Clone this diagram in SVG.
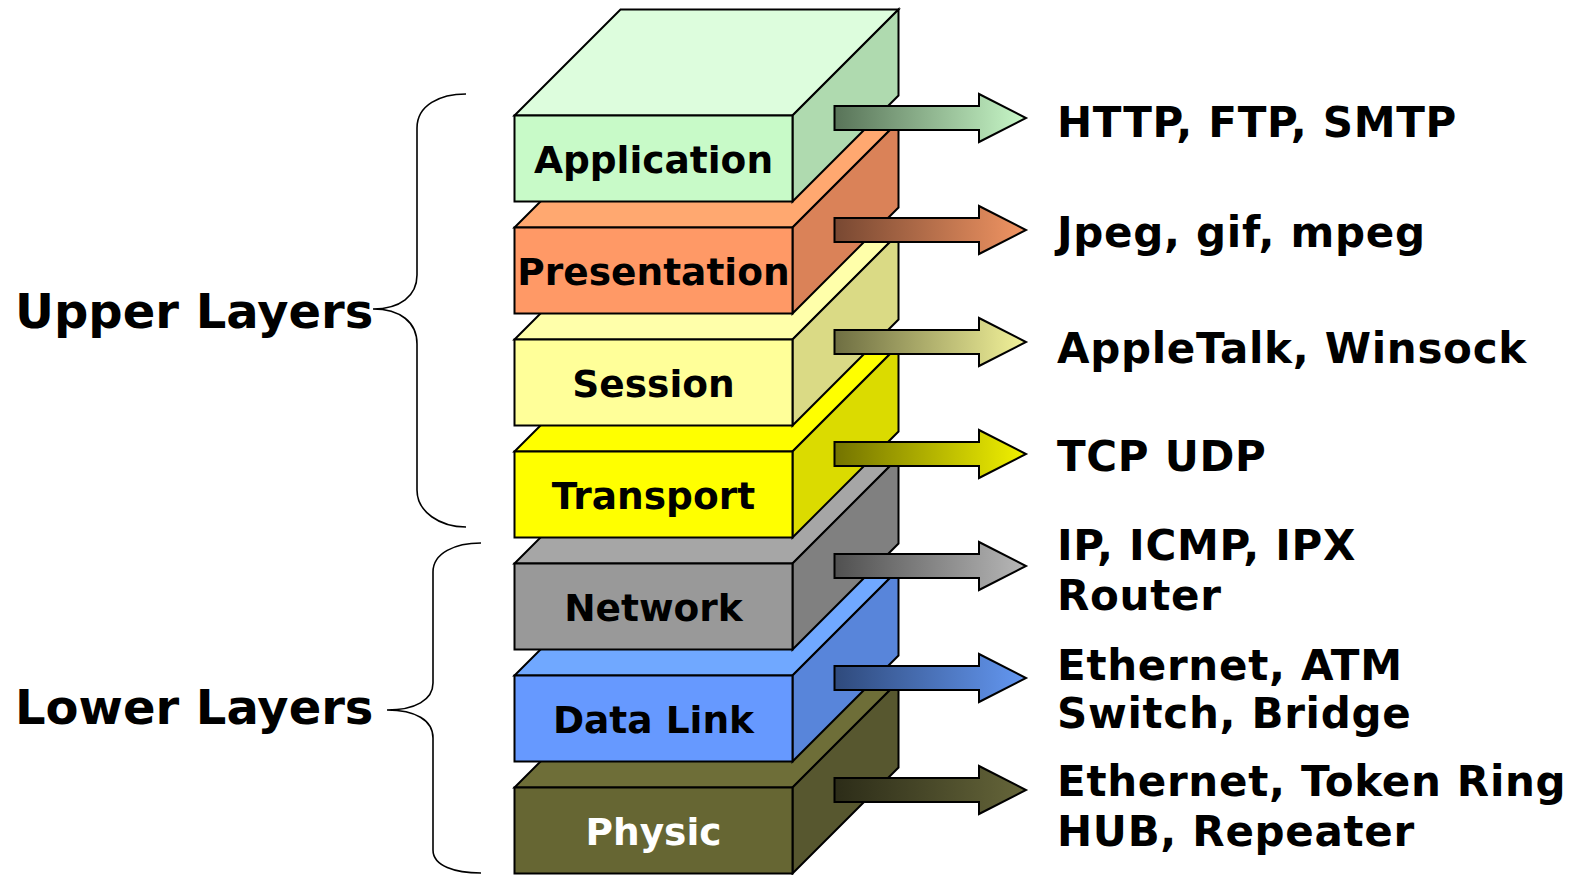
<svg xmlns="http://www.w3.org/2000/svg" width="1573" height="875" viewBox="0 0 1573 875">
<style>
.e{stroke:#000;stroke-width:2;stroke-linejoin:miter}
.lbl{font-family:"DejaVu Sans",sans-serif;font-weight:bold;font-size:37.5px;text-anchor:middle;fill:#000}
.side{font-family:"DejaVu Sans",sans-serif;font-weight:bold;font-size:48px;fill:#000}
.proto{font-family:"DejaVu Sans",sans-serif;font-weight:bold;font-size:42px;letter-spacing:0.7px;fill:#000}
.br{fill:none;stroke:#000;stroke-width:1.6}
</style>
<defs>
<linearGradient id="gA" x1="0" x2="1" y1="0" y2="0"><stop offset="0" stop-color="#587358"/><stop offset="1" stop-color="#c8f8c8"/></linearGradient>
<linearGradient id="gP" x1="0" x2="1" y1="0" y2="0"><stop offset="0" stop-color="#784832"/><stop offset="1" stop-color="#f29563"/></linearGradient>
<linearGradient id="gS" x1="0" x2="1" y1="0" y2="0"><stop offset="0" stop-color="#6e6e42"/><stop offset="1" stop-color="#f3f39a"/></linearGradient>
<linearGradient id="gT" x1="0" x2="1" y1="0" y2="0"><stop offset="0" stop-color="#737300"/><stop offset="1" stop-color="#f2f200"/></linearGradient>
<linearGradient id="gN" x1="0" x2="1" y1="0" y2="0"><stop offset="0" stop-color="#505050"/><stop offset="1" stop-color="#b8b8b8"/></linearGradient>
<linearGradient id="gD" x1="0" x2="1" y1="0" y2="0"><stop offset="0" stop-color="#2f4a7c"/><stop offset="1" stop-color="#6498f2"/></linearGradient>
<linearGradient id="gH" x1="0" x2="1" y1="0" y2="0"><stop offset="0" stop-color="#2c2c18"/><stop offset="1" stop-color="#66663a"/></linearGradient>
</defs>

<g id="layer-physic">
<polygon class="e" fill="#6e6e38" points="514.5,787.5 620.5,681.5 898.5,681.5 792.5,787.5"/>
<polygon class="e" fill="#57572f" points="792.5,787.5 898.5,681.5 898.5,767.5 792.5,873.5"/>
<rect class="e" fill="#666633" x="514.5" y="787.5" width="278" height="86"/>
<text class="lbl" x="653.5" y="844.5" style="fill:#fff">Physic</text>
</g>
<g id="layer-datalink">
<polygon class="e" fill="#70a8ff" points="514.5,675.5 620.5,569.5 898.5,569.5 792.5,675.5"/>
<polygon class="e" fill="#5885da" points="792.5,675.5 898.5,569.5 898.5,655.5 792.5,761.5"/>
<rect class="e" fill="#6699ff" x="514.5" y="675.5" width="278" height="86"/>
<text class="lbl" x="653.5" y="732.5">Data Link</text>
</g>
<g id="layer-network">
<polygon class="e" fill="#a6a6a6" points="514.5,563.5 620.5,457.5 898.5,457.5 792.5,563.5"/>
<polygon class="e" fill="#808080" points="792.5,563.5 898.5,457.5 898.5,543.5 792.5,649.5"/>
<rect class="e" fill="#999999" x="514.5" y="563.5" width="278" height="86"/>
<text class="lbl" x="653.5" y="620.5">Network</text>
</g>
<g id="layer-transport">
<polygon class="e" fill="#ffff00" points="514.5,451.5 620.5,345.5 898.5,345.5 792.5,451.5"/>
<polygon class="e" fill="#dbdb00" points="792.5,451.5 898.5,345.5 898.5,431.5 792.5,537.5"/>
<rect class="e" fill="#ffff00" x="514.5" y="451.5" width="278" height="86"/>
<text class="lbl" x="653.5" y="508.5">Transport</text>
</g>
<g id="layer-session">
<polygon class="e" fill="#ffffaa" points="514.5,339.5 620.5,233.5 898.5,233.5 792.5,339.5"/>
<polygon class="e" fill="#dada85" points="792.5,339.5 898.5,233.5 898.5,319.5 792.5,425.5"/>
<rect class="e" fill="#ffff99" x="514.5" y="339.5" width="278" height="86"/>
<text class="lbl" x="653.5" y="396.5">Session</text>
</g>
<g id="layer-presentation">
<polygon class="e" fill="#ffa870" points="514.5,227.5 620.5,121.5 898.5,121.5 792.5,227.5"/>
<polygon class="e" fill="#da8258" points="792.5,227.5 898.5,121.5 898.5,207.5 792.5,313.5"/>
<rect class="e" fill="#ff9966" x="514.5" y="227.5" width="278" height="86"/>
<text class="lbl" x="653.5" y="284.5">Presentation</text>
</g>
<g id="layer-application">
<polygon class="e" fill="#ddfddd" points="514.5,115.5 620.5,9.5 898.5,9.5 792.5,115.5"/>
<polygon class="e" fill="#afdaaf" points="792.5,115.5 898.5,9.5 898.5,95.5 792.5,201.5"/>
<rect class="e" fill="#c8fac8" x="514.5" y="115.5" width="278" height="86"/>
<text class="lbl" x="653.5" y="172.5">Application</text>
</g>

<g id="connectors">
<path class="e" fill="url(#gA)" d="M834.5,106 H979 V94 L1026,118 L979,142 V130 H834.5 Z"/>
<path class="e" fill="url(#gP)" d="M834.5,218 H979 V206 L1026,230 L979,254 V242 H834.5 Z"/>
<path class="e" fill="url(#gS)" d="M834.5,330 H979 V318 L1026,342 L979,366 V354 H834.5 Z"/>
<path class="e" fill="url(#gT)" d="M834.5,442 H979 V430 L1026,454 L979,478 V466 H834.5 Z"/>
<path class="e" fill="url(#gN)" d="M834.5,554 H979 V542 L1026,566 L979,590 V578 H834.5 Z"/>
<path class="e" fill="url(#gD)" d="M834.5,666 H979 V654 L1026,678 L979,702 V690 H834.5 Z"/>
<path class="e" fill="url(#gH)" d="M834.5,778 H979 V766 L1026,790 L979,814 V802 H834.5 Z"/>
</g>

<g id="upper-brace">
<path class="br" d="M466,94 C440,94 417,105 417,128 L417,275 C417,296 400,309 373,309 C400,309 417,322 417,344 L417,490 C417,512 440,527 466,527"/>
<text class="side" x="15" y="328">Upper Layers</text>
</g>
<g id="lower-brace">
<path class="br" d="M481,543 C455,543 433,553 433,572 L433,683 C433,700 415,710 387,710 C415,710 433,720 433,738 L433,850 C433,866 455,873 481,873"/>
<text class="side" x="15" y="724">Lower Layers</text>
</g>

<g id="protocols">
<text class="proto" x="1057" y="137">HTTP, FTP, SMTP</text>
<text class="proto" x="1057" y="247">Jpeg, gif, mpeg</text>
<text class="proto" x="1057" y="363">AppleTalk, Winsock</text>
<text class="proto" x="1057" y="471">TCP UDP</text>
<text class="proto" x="1057" y="560">IP, ICMP, IPX</text>
<text class="proto" x="1057" y="610">Router</text>
<text class="proto" x="1057" y="680">Ethernet, ATM</text>
<text class="proto" x="1057" y="728">Switch, Bridge</text>
<text class="proto" x="1057" y="796">Ethernet, Token Ring</text>
<text class="proto" x="1057" y="846">HUB, Repeater</text>
</g>
</svg>
